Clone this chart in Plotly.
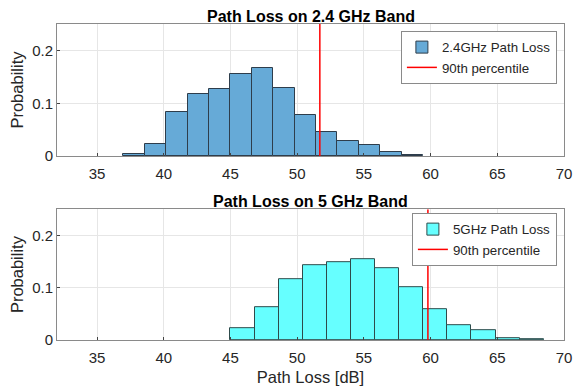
import plotly.graph_objects as go
from plotly.subplots import make_subplots

# ---- data ----
bin_start_24 = 36.97
bin_width_24 = 1.604
prob_24 = [0.0035, 0.023, 0.083, 0.117, 0.127, 0.155, 0.167, 0.128,
           0.078, 0.0455, 0.029, 0.0205, 0.007, 0.002]
p90_24 = 51.7

bin_start_5 = 45.0
bin_width_5 = 1.806
prob_5 = [0.023, 0.062, 0.116, 0.143, 0.149, 0.155, 0.137, 0.1015,
          0.059, 0.029, 0.019, 0.004, 0.002]
p90_5 = 59.8

x_range = [32, 70]
y_range = [0, 0.25]
x_ticks = [35, 40, 45, 50, 55, 60, 65, 70]
y_ticks = [0, 0.1, 0.2]

centers_24 = [bin_start_24 + bin_width_24 * (i + 0.5) for i in range(len(prob_24))]
centers_5 = [bin_start_5 + bin_width_5 * (i + 0.5) for i in range(len(prob_5))]

FONT = "Liberation Sans, Arial, Helvetica, sans-serif"

fig = make_subplots(rows=2, cols=1, vertical_spacing=0.0)

fig.add_trace(go.Bar(x=centers_24, y=prob_24, width=bin_width_24,
                     marker=dict(color="#66AAD7", line=dict(color="#2E3D4B", width=1)),
                     name="2.4GHz Path Loss", legend="legend"), row=1, col=1)
fig.add_trace(go.Scatter(x=[p90_24, p90_24], y=y_range, mode="lines",
                         line=dict(color="#FF0000", width=1.5),
                         name="90th percentile", legend="legend"), row=1, col=1)
fig.add_trace(go.Bar(x=centers_5, y=prob_5, width=bin_width_5,
                     marker=dict(color="#66FFFF", line=dict(color="#2E4B4B", width=1)),
                     name="5GHz Path Loss", legend="legend2"), row=2, col=1)
fig.add_trace(go.Scatter(x=[p90_5, p90_5], y=y_range, mode="lines",
                         line=dict(color="#FF0000", width=1.5),
                         name="90th percentile", legend="legend2"), row=2, col=1)

axis_common = dict(showline=True, mirror=True, linecolor="#8a8a8a", linewidth=1,
                   showgrid=True, gridcolor="#e6e6e6", gridwidth=1,
                   ticks="inside", ticklen=3, tickcolor="#444",
                   tickfont=dict(family=FONT, size=15, color="#262626"),
                   zeroline=False, automargin=False)

fig.update_xaxes(range=x_range, tickvals=x_ticks, ticklabelstandoff=4, **axis_common)
fig.update_yaxes(range=y_range, tickvals=y_ticks, ticktext=["0", "0.1", "0.2"],
                 **axis_common)
fig.update_yaxes(title=dict(text="Probability", font=dict(family=FONT, size=16.5, color="#262626"),
                            standoff=4))
fig.update_xaxes(title=dict(text="Path Loss [dB]", font=dict(family=FONT, size=16.5, color="#262626"),
                            standoff=6), row=2, col=1)

fig.update_layout(
    width=573, height=389,
    margin=dict(l=57, r=9, t=24, b=49),
    plot_bgcolor="white", paper_bgcolor="white",
    bargap=0,
    yaxis=dict(domain=[0.582, 1.0]),
    yaxis2=dict(domain=[0.0, 0.414]),
    legend=dict(x=0.986, y=0.978, xanchor="right", yanchor="top",
                bordercolor="#8a8a8a", borderwidth=1, bgcolor="white",
                font=dict(family=FONT, size=13.3, color="#262626"),
                tracegroupgap=0, itemwidth=30),
    legend2=dict(x=0.986, y=0.402, xanchor="right", yanchor="top",
                 bordercolor="#8a8a8a", borderwidth=1, bgcolor="white",
                 font=dict(family=FONT, size=13.3, color="#262626"),
                 tracegroupgap=0, itemwidth=30),
    annotations=[
        dict(text="<b>Path Loss on 2.4 GHz Band</b>", x=0.5, y=1.0, xref="paper", yref="paper",
             xanchor="center", yanchor="bottom", yshift=-3, showarrow=False,
             font=dict(family=FONT, size=16, color="black")),
        dict(text="<b>Path Loss on 5 GHz Band</b>", x=0.5, y=0.414, xref="paper", yref="paper",
             xanchor="center", yanchor="bottom", yshift=-3, showarrow=False,
             font=dict(family=FONT, size=16, color="black")),
    ],
)

# remove the browser's default 8px body margin so the figure fills the window exactly
fig.write_html("out.html",
               config={"displayModeBar": False},
               post_script="document.body.style.margin='0';document.body.style.overflow='hidden';")
